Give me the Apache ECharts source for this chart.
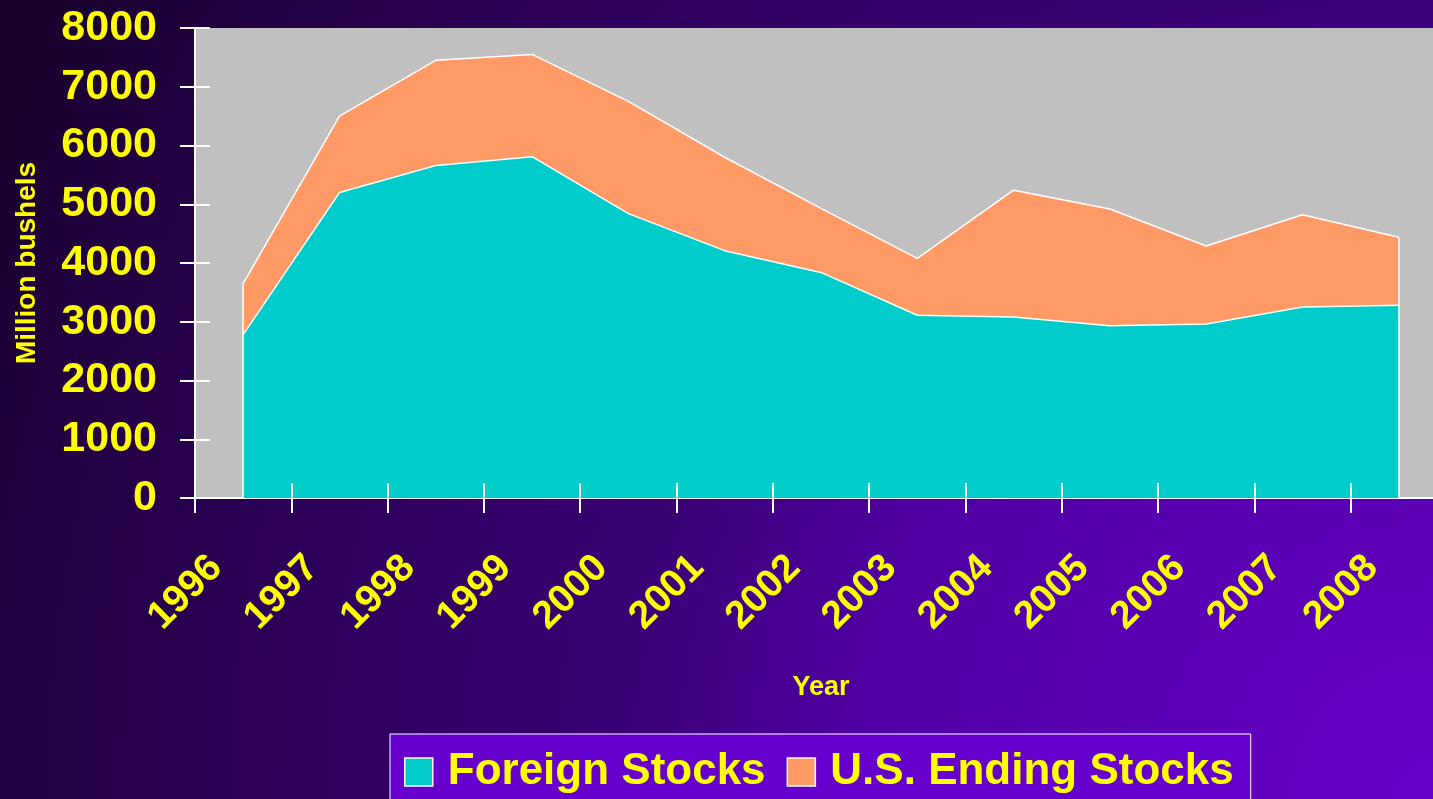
<!DOCTYPE html>
<html>
<head>
<meta charset="utf-8">
<style>
  html, body { margin: 0; padding: 0; }
  #place { width: 1433px; height: 799px; }
</style>
</head>
<body>
<div id="place"></div>
<script src="https://cdn.jsdelivr.net/npm/echarts@6/dist/echarts.min.js"></script>
<script>
var years = ['1996', '1997', '1998', '1999', '2000', '2001', '2002', '2003', '2004', '2005', '2006', '2007', '2008'];
var foreignStocks = [2780, 5200, 5660, 5810, 4840, 4210, 3840, 3110, 3080, 2930, 2960, 3250, 3280];
var usStocks = [870, 1300, 1790, 1740, 1910, 1590, 1090, 970, 2160, 1990, 1330, 1570, 1160];
var yTicks = [0, 8000, 1000];

var font = 'Liberation Sans, Arial, sans-serif';
var yellow = '#ffff00';

var totals = years.map(function (y, i) { return foreignStocks[i] + usStocks[i]; });
var last = years.length - 1;

var myChart = echarts.init(document.getElementById('place'));
myChart.setOption({
  animation: false,
  // glow from the bottom right corner
  backgroundColor: {
    type: 'radial', x: 1, y: 1, r: 2.05,
    colorStops: [
      { offset: 0, color: '#6600c8' },
      { offset: 0.35, color: '#5000a4' },
      { offset: 0.5, color: '#3a0074' },
      { offset: 0.68, color: '#2e005e' },
      { offset: 0.87, color: '#220040' },
      { offset: 1, color: '#160028' }
    ]
  },
  grid: {
    left: 195, top: 28, height: 470, width: 1252,
    outerBoundsMode: 'none',
    containLabel: false,
    show: true, backgroundColor: '#c0c0c0', borderWidth: 0
  },
  legend: {
    left: 390, top: 734,
    padding: [16, 17, 16, 14],
    backgroundColor: '#6600cc',
    borderColor: '#ffffff', borderWidth: 1,
    itemWidth: 28, itemHeight: 28, itemGap: 21,
    icon: 'rect',
    textStyle: { color: yellow, fontFamily: font, fontWeight: 'bold', fontSize: 44, padding: [0, 0, 0, 10] },
    data: [
      { name: 'Foreign Stocks', itemStyle: { borderColor: '#ffffff', borderWidth: 1.5 } },
      { name: 'U.S. Ending Stocks', itemStyle: { borderColor: '#ffffff', borderWidth: 1.5 } }
    ]
  },
  xAxis: [{
    type: 'category',
    data: years,
    boundaryGap: true,
    name: 'Year',
    nameLocation: 'middle',
    nameGap: 176,
    nameTextStyle: { color: yellow, fontFamily: font, fontWeight: 'bold', fontSize: 27 },
    axisLine: { show: true, lineStyle: { color: '#ffffff', width: 2 } },
    axisTick: { show: true, interval: 0, length: 15, lineStyle: { color: '#ffffff', width: 2 } },
    axisLabel: {
      interval: 0, rotate: 45, margin: 37,
      padding: [0, 38, 0, 0],
      color: yellow, fontFamily: font, fontWeight: 'bold', fontSize: 39
    },
    splitLine: { show: false }
  }, {
    type: 'category',
    data: years,
    position: 'bottom',
    boundaryGap: true,
    z: 5,
    axisLine: { show: false },
    axisTick: { show: true, interval: 0, inside: true, length: 15, lineStyle: { color: '#ffffff', width: 2 } },
    axisLabel: { show: false },
    splitLine: { show: false }
  }],
  yAxis: [{
    type: 'value',
    min: yTicks[0], max: yTicks[1], interval: yTicks[2],
    name: 'Million bushels',
    nameLocation: 'middle',
    nameGap: 154,
    nameTextStyle: { color: yellow, fontFamily: font, fontWeight: 'bold', fontSize: 28 },
    axisLine: { show: true, lineStyle: { color: '#ffffff', width: 2 } },
    axisTick: { show: true, length: 15, lineStyle: { color: '#ffffff', width: 2 } },
    axisLabel: {
      margin: 38, color: yellow, fontFamily: font, fontWeight: 'bold', fontSize: 43,
      formatter: function (v) { return String(v); }
    },
    splitLine: { show: false }
  }, {
    type: 'value',
    position: 'left',
    min: yTicks[0], max: yTicks[1], interval: yTicks[2],
    z: 5,
    axisLine: { show: false },
    axisTick: { show: true, inside: true, length: 15, lineStyle: { color: '#ffffff', width: 2 } },
    axisLabel: { show: false },
    splitLine: { show: false }
  }],
  series: [{
    name: 'Foreign Stocks',
    type: 'line',
    stack: 'total',
    data: foreignStocks,
    symbol: 'none',
    itemStyle: { color: '#00cccc' },
    lineStyle: { color: '#ffffff', width: 1.5 },
    areaStyle: { color: '#00cccc', opacity: 1 }
  }, {
    name: 'U.S. Ending Stocks',
    type: 'line',
    stack: 'total',
    data: usStocks,
    symbol: 'none',
    itemStyle: { color: '#ff9966' },
    lineStyle: { color: '#ffffff', width: 1.5 },
    areaStyle: { color: '#ff9966', opacity: 1 },
    markLine: {
      silent: true,
      symbol: 'none',
      label: { show: false },
      lineStyle: { color: '#ffffff', width: 1.5, type: 'solid' },
      data: [
        [{ coord: [0, 0] }, { coord: [0, totals[0]] }],
        [{ coord: [last, 0] }, { coord: [last, totals[last]] }]
      ]
    }
  }]
});
</script>
</body>
</html>
